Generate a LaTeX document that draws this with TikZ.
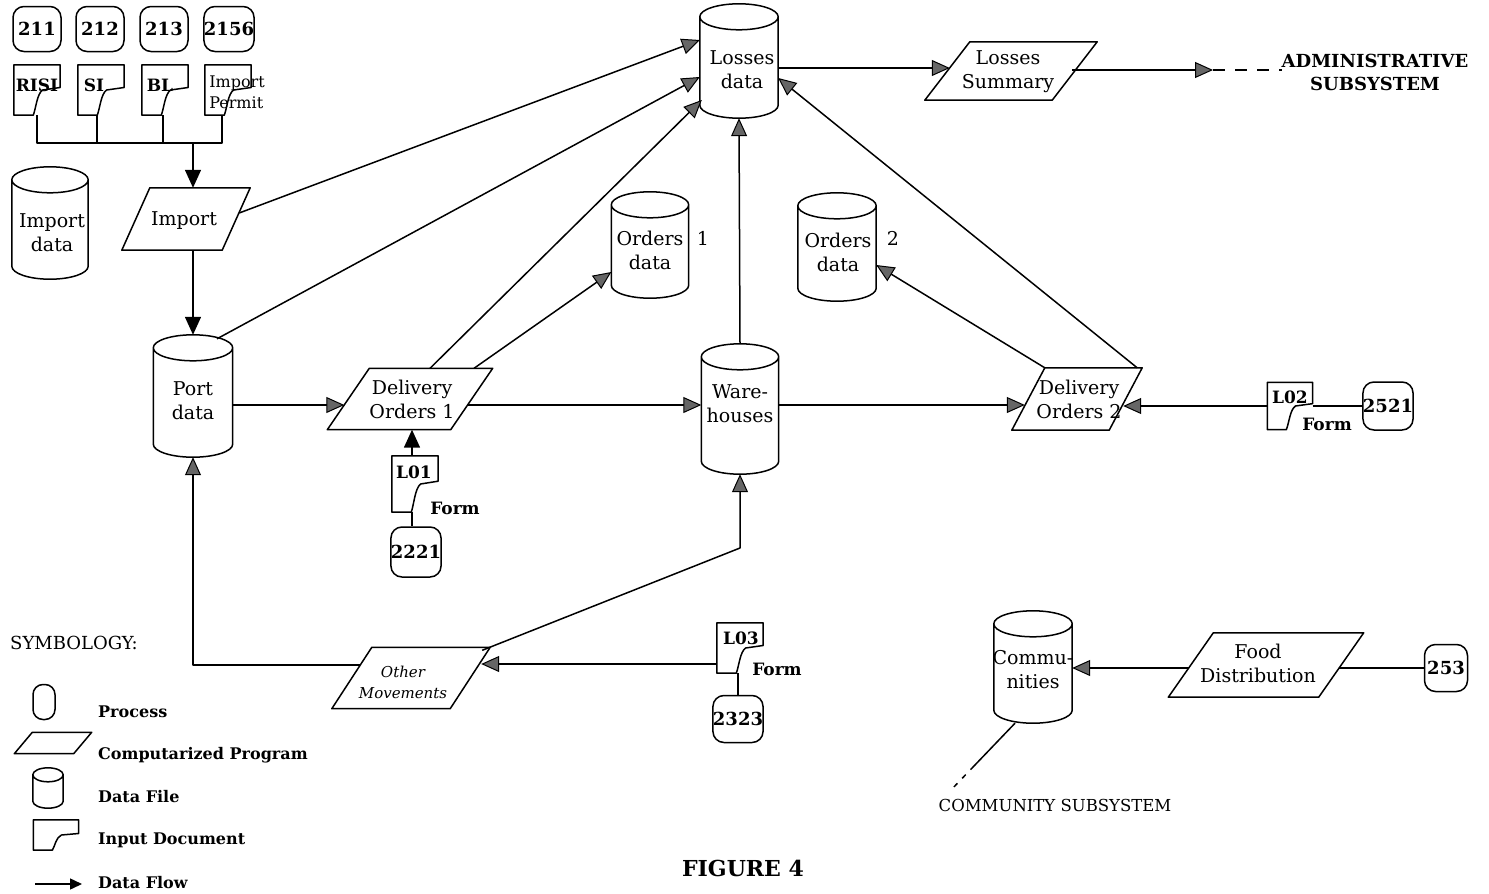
\documentclass[tikz,border=0pt]{standalone}
\usepackage{fontspec}
\setmainfont{DejaVu Serif}
\usetikzlibrary{arrows.meta,calc}
\tikzset{
 ln/.style={line width=1.5pt, line join=round},
 flow/.style={ln, -{Triangle[length=18pt,width=16pt,fill=black!60,line width=1pt]}},
 flowk/.style={ln, -{Triangle[length=18pt,width=16pt,fill=black]}},
 proc/.style={draw, ln, rounded corners=11pt, inner sep=0pt, font=\bfseries\fontsize{18}{22}\selectfont},
 sbox/.style={draw=none, inner sep=0pt},
 lbl/.style={inner sep=0pt, align=center, font=\fontsize{19}{24}\selectfont},
 blbl/.style={inner sep=0pt, align=center, font=\bfseries\fontsize{17}{22}\selectfont},
 slbl/.style={inner sep=0pt, align=center, font=\fontsize{15}{21}\selectfont},
 leg/.style={inner sep=0pt, anchor=west, font=\bfseries\fontsize{16}{18}\selectfont},
}
\newcommand{\cylfig}[2]{%
 \draw[ln] let \p1=(#1.north west), \p2=(#1.south east), \n1={(\x2-\x1)/2} in
 (\x1,\y1-#2pt) -- (\x1,\y2+#2pt) arc[start angle=180,end angle=360,x radius=\n1,y radius=#2pt]
 -- (\x2,\y1-#2pt) arc[start angle=0,end angle=180,x radius=\n1,y radius=#2pt]
 arc[start angle=180,end angle=360,x radius=\n1,y radius=#2pt];}
\newcommand{\docfig}[1]{%
 \draw[ln] let \p1=(#1.north west), \p2=(#1.south east), \n1={\x2-\x1}, \n2={\y1-\y2} in
 (\p1) -- (\x2,\y1) -- (\x2,\y1-0.45*\n2) -- (\x1+0.62*\n1,\y1-0.5*\n2)
 .. controls (\x1+0.5*\n1,\y1-0.58*\n2) and (\x1+0.48*\n1,\y1-0.85*\n2) .. (\x1+0.42*\n1,\y2)
 -- (\x1,\y2) -- cycle;}
\newcommand{\prlfig}[2]{\draw[ln] ([xshift=#2pt]#1.north west) -- (#1.north east) -- ([xshift=-#2pt]#1.south east) -- (#1.south west) -- cycle;}
\begin{document}
\begin{tikzpicture}[x=1pt,y=1pt]
\useasboundingbox (0,0) rectangle (1489,-894);
% ---- top processes
\node[proc, minimum width=48pt, minimum height=45pt] (p211) at (37,-29) {211};
\node[proc, minimum width=48pt, minimum height=45pt] (p212) at (100,-29) {212};
\node[proc, minimum width=48pt, minimum height=45pt] (p213) at (164,-29) {213};
\node[proc, minimum width=48pt, minimum height=45pt] (p2156) at (229,-29) {2156};
% ---- input documents
\node[sbox, minimum width=46pt, minimum height=50pt] (dRISI) at (37,-90) {}; \docfig{dRISI}
\node[sbox, minimum width=46pt, minimum height=50pt] (dSI) at (101,-90) {}; \docfig{dSI}
\node[sbox, minimum width=46pt, minimum height=50pt] (dBL) at (165,-90) {}; \docfig{dBL}
\node[sbox, minimum width=46pt, minimum height=50pt] (dIP) at (228,-90) {}; \docfig{dIP}
\node[blbl] (tRISI) at (37,-85) {RISI};
\node[blbl] (tSI) at (94,-85) {SI};
\node[blbl] (tBL) at (160,-85) {BL};
\node[inner sep=0pt, align=left, font=\fontsize{16}{21}\selectfont] (tIP) at (237,-92) {Import\\Permit};
% ---- bar and import
\coordinate (bar) at (193,-143);
\node[sbox, minimum width=128pt, minimum height=62pt] (prImport) at (186,-219) {}; \prlfig{prImport}{28}
\node[lbl] (tImport) at (184,-221) {Import};
\draw[ln] (dRISI.south) -- (dRISI.south |- bar) -- ([xshift=-6pt]dIP.south |- bar) -- ([xshift=-6pt]dIP.south);
\draw[ln] ([xshift=-4pt]dSI.south) -- ([xshift=-4pt]dSI.south |- bar);
\draw[ln] ([xshift=-2pt]dBL.south) -- ([xshift=-2pt]dBL.south |- bar);
\draw[flowk] (bar) -- (bar |- prImport.north);
% ---- data files
\node[sbox, minimum width=76pt, minimum height=112pt] (cImpD) at (50,-223) {}; \cylfig{cImpD}{13}
\node[lbl] (tImpD) at (52,-233) {Import\\data};
\node[sbox, minimum width=79pt, minimum height=122pt] (cPort) at (193,-396) {}; \cylfig{cPort}{13}
\node[lbl] (tPort) at (193,-401) {Port\\data};
\node[sbox, minimum width=78pt, minimum height=114pt] (cLoss) at (739,-61) {}; \cylfig{cLoss}{13}
\node[lbl] (tLoss) at (742,-70) {Losses\\data};
\node[sbox, minimum width=77pt, minimum height=106pt] (cOrd1) at (650,-245) {}; \cylfig{cOrd1}{13}
\node[lbl] (tOrd1) at (650,-250) {Orders\\data};
\node[lbl] (tOrd1n) at (703,-238) {1};
\node[sbox, minimum width=78pt, minimum height=108pt] (cOrd2) at (837,-247) {}; \cylfig{cOrd2}{13}
\node[lbl] (tOrd2) at (838,-252) {Orders\\data};
\node[lbl] (tOrd2n) at (893,-238) {2};
\node[sbox, minimum width=77pt, minimum height=130pt] (cWare) at (740,-409) {}; \cylfig{cWare}{13}
\node[lbl] (tWare) at (740,-404) {Ware-\\houses};
\node[sbox, minimum width=78pt, minimum height=112pt] (cComm) at (1033,-667) {}; \cylfig{cComm}{13}
\node[lbl] (tComm) at (1033,-670) {Commu-\\nities};
% ---- programs
\node[sbox, minimum width=165pt, minimum height=61pt] (prDO1) at (410,-399) {}; \prlfig{prDO1}{42}
\node[lbl] (tDO1) at (412,-399) {Delivery\\Orders 1};
\node[sbox, minimum width=130pt, minimum height=62pt] (prDO2) at (1077,-399) {}; \prlfig{prDO2}{33}
\node[lbl] (tDO2) at (1079,-399) {Delivery\\Orders 2};
\node[sbox, minimum width=172pt, minimum height=58pt] (prLS) at (1011,-71) {}; \prlfig{prLS}{45}
\node[lbl] (tLS) at (1008,-72) {Losses\\Summary};
\node[sbox, minimum width=158pt, minimum height=61pt] (prOM) at (411,-678) {}; \prlfig{prOM}{40}
\node[slbl] (tOM) at (403,-682) {\itshape Other\\\itshape Movements};
\node[sbox, minimum width=195pt, minimum height=64pt] (prFD) at (1266,-665) {}; \prlfig{prFD}{45}
\node[lbl] (tFD) at (1258,-663) {Food\\Distribution};
% ---- processes and forms
\node[proc, minimum width=50pt, minimum height=50pt] (p2221) at (416,-552) {2221};
\node[proc, minimum width=48pt, minimum height=48pt] (p2521) at (1388,-406) {2521};
\node[proc, minimum width=47pt, minimum height=47pt] (p2323) at (738,-719) {2323};
\node[proc, minimum width=43pt, minimum height=47pt] (p253) at (1446,-668) {253};
\node[sbox, minimum width=46pt, minimum height=56pt] (dL01) at (415,-484) {}; \docfig{dL01}
\node[blbl] (tL01) at (414,-472) {L01};
\node[blbl] (tF1) at (455,-508) {Form};
\node[sbox, minimum width=45pt, minimum height=47pt] (dL02) at (1290,-406) {}; \docfig{dL02}
\node[blbl] (tL02) at (1290,-397) {L02};
\node[blbl] (tF2) at (1327,-424) {Form};
\node[sbox, minimum width=46pt, minimum height=50pt] (dL03) at (740,-648) {}; \docfig{dL03}
\node[blbl] (tL03) at (741,-638) {L03};
\node[blbl] (tF3) at (777,-669) {Form};
% ---- subsystems
\node[inner sep=0pt, align=center, font=\bfseries\fontsize{18}{23}\selectfont] (admin) at (1375,-72) {ADMINISTRATIVE\\SUBSYSTEM};
\coordinate (adm) at (1213,-70);
\node[inner sep=0pt, font=\fontsize{16.5}{18}\selectfont] (tComSub) at (1055,-805) {COMMUNITY SUBSYSTEM};
\coordinate (csub) at (974,-766);
% ---- connectors
\draw[flow] ([xshift=-11pt,yshift=6pt]prImport.east) -- ([yshift=21pt]cLoss.west);
\draw[flow] ([xshift=24pt,yshift=-4pt]cPort.north) -- ([yshift=-16pt]cLoss.west);
\draw[flow] ([xshift=20pt]prDO1.north) -- ([xshift=2pt,yshift=-39pt]cLoss.west);
\draw[flow] ([xshift=64pt]prDO1.north) -- ([yshift=-27pt]cOrd1.west);
\draw[flowk] (bar |- prImport.south) -- (bar |- cPort.north);
\draw[flow] ([yshift=-9pt]cPort.east) -- ([xshift=17pt,yshift=-6pt]prDO1.west);
\draw[flow] ([xshift=-25pt,yshift=-6pt]prDO1.east) -- ([yshift=4pt]cWare.west);
\draw[flow] (cWare.north) -- (cLoss.south);
\draw[flow] ([yshift=4pt]cWare.east) -- ([xshift=13pt,yshift=-6pt]prDO2.west);
\draw[flow] (dL02.west) -- ([xshift=-19pt,yshift=-7pt]prDO2.east);
\draw[ln] (dL02.east) -- (p2521.west);
\draw[flow] ([xshift=33pt]prDO2.north west) -- ([yshift=-18pt]cOrd2.east);
\draw[flow] ([xshift=-5pt]prDO2.north east) -- ([yshift=-17pt]cLoss.east);
\draw[flow] ([yshift=-7pt]cLoss.east) -- ([xshift=25pt,yshift=3pt]prLS.west);
\draw[flow] ([xshift=-25pt,yshift=1pt]prLS.east) -- (adm);
\draw[ln, dash pattern=on 12pt off 10pt] (adm) -- (adm -| admin.west);
\draw[flowk] ([xshift=-3pt]dL01.north) -- ([xshift=-3pt]dL01.north |- prDO1.south);
\draw[ln] ([xshift=-3pt]dL01.south) -- ([xshift=-3pt]dL01.south |- p2221.north);
\draw[ln] ([xshift=-2pt]dL03.south) -- ([xshift=-2pt]dL03.south |- p2323.north);
\draw[flow] ([yshift=-16pt]dL03.west) -- ([xshift=-9pt,yshift=14pt]prOM.east);
\coordinate (wbend) at (0,-548);
\draw[flow] ([xshift=-8pt,yshift=-3pt]prOM.north east) -- (cWare.south |- wbend) -- (cWare.south);
\draw[flow] ([xshift=28pt,yshift=13pt]prOM.west) -| (cPort.south);
\draw[ln] (p253.west) -- ([xshift=-25pt,yshift=-3pt]prFD.east);
\draw[flow] ([xshift=21pt,yshift=-3pt]prFD.west) -- ([yshift=-1pt]cComm.east);
\draw[ln] ([xshift=-18pt]cComm.south) -- (csub);
\draw[ln, dash pattern=on 5pt off 7pt] (csub) -- ([xshift=12pt,yshift=8pt]tComSub.north west);
% ---- legend
\node[inner sep=0pt, anchor=west, font=\fontsize{18}{20}\selectfont] (tSym) at (10,-643) {SYMBOLOGY:};
\node[draw, ln, rounded corners=10pt, minimum width=22pt, minimum height=35pt, inner sep=0pt] (lgProc) at (44,-702) {};
\node[leg] (tProc) at (98,-712) {Process};
\node[sbox, minimum width=77pt, minimum height=21pt] (lgPrl) at (53,-743) {}; \prlfig{lgPrl}{18}
\node[leg] (tPrl) at (98,-755) {Computarized Program};
\node[sbox, minimum width=30pt, minimum height=40pt] (lgCyl) at (48,-788) {}; \cylfig{lgCyl}{7}
\node[leg] (tDF) at (98,-797) {Data File};
\node[sbox, minimum width=45pt, minimum height=30pt] (lgDoc) at (56,-835) {}; \docfig{lgDoc}
\node[leg] (tID) at (98,-840) {Input Document};
\coordinate (lgA1) at (35,-884);
\coordinate (lgA2) at (82,-884);
\draw[ln, -{Triangle[length=12pt,width=11pt,fill=black]}] (lgA1) -- (lgA2);
\node[leg] (tDFl) at (98,-883) {Data Flow};
\node[inner sep=0pt, font=\bfseries\fontsize{22}{24}\selectfont] (fig) at (743,-868) {FIGURE 4};
\end{tikzpicture}
\end{document}
